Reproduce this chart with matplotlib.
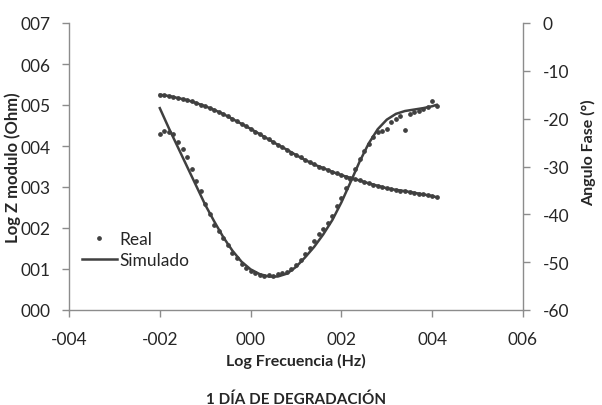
import matplotlib
matplotlib.use("Agg")
import matplotlib.pyplot as plt
from matplotlib.ticker import FuncFormatter, MultipleLocator
from matplotlib.lines import Line2D

plt.rcParams['font.family'] = ['Lato', 'DejaVu Sans']

# Real (measured) data
log_freq_real = [-2.0, -1.9, -1.8, -1.7, -1.6, -1.5, -1.4, -1.3, -1.2, -1.1,
                 -1.0, -0.9, -0.8, -0.7, -0.6, -0.5, -0.4, -0.3, -0.2, -0.1,
                 0.0, 0.1, 0.2, 0.3, 0.4, 0.5, 0.6, 0.7, 0.8, 0.9,
                 1.0, 1.1, 1.2, 1.3, 1.4, 1.5, 1.6, 1.7, 1.8, 1.9,
                 2.0, 2.1, 2.2, 2.3, 2.4, 2.5, 2.6, 2.7, 2.8, 2.9,
                 3.0, 3.1, 3.2, 3.3, 3.4, 3.5, 3.6, 3.7, 3.8, 3.9,
                 4.0, 4.1]
log_z_real = [5.25, 5.24, 5.22, 5.20, 5.17, 5.15, 5.12, 5.09, 5.05, 5.01,
              4.97, 4.93, 4.88, 4.83, 4.78, 4.72, 4.66, 4.60, 4.54, 4.48,
              4.42, 4.35, 4.29, 4.22, 4.16, 4.10, 4.03, 3.97, 3.91, 3.84,
              3.78, 3.72, 3.66, 3.61, 3.55, 3.50, 3.46, 3.41, 3.37, 3.33,
              3.29, 3.25, 3.22, 3.19, 3.16, 3.12, 3.09, 3.06, 3.03, 3.00,
              2.97, 2.95, 2.93, 2.91, 2.90, 2.88, 2.86, 2.84, 2.82, 2.80,
              2.78, 2.75]
phase_real = [-23.2, -22.6, -22.8, -23.2, -24.9, -26.3, -28.0, -30.5, -33.0, -35.1,
              -37.8, -40.0, -42.2, -43.5, -45.0, -46.5, -48.0, -49.2, -50.3, -51.2,
              -51.8, -52.3, -52.6, -52.8, -52.6, -52.8, -52.5, -52.3, -52.0, -51.5,
              -50.5, -49.5, -48.3, -47.0, -45.6, -44.2, -43.0, -41.8, -40.3, -38.3,
              -36.5, -34.5, -32.6, -30.5, -28.5, -26.8, -25.3, -23.8, -22.8, -22.6,
              -22.2, -20.7, -20.1, -19.4, -22.4, -19.0, -18.6, -18.4, -18.0, -17.6,
              -16.3, -17.4]

# Simulated data
log_freq_sim = [-2.0, -1.8, -1.6, -1.4, -1.2, -1.0, -0.8, -0.6, -0.4, -0.2,
                0.0, 0.2, 0.4, 0.6, 0.8, 1.0, 1.2, 1.4, 1.6, 1.8,
                2.0, 2.2, 2.4, 2.6, 2.8, 3.0, 3.2, 3.4, 3.6, 3.8,
                4.0, 4.1]
log_z_sim = [5.25, 5.22, 5.17, 5.12, 5.05, 4.97, 4.88, 4.78, 4.66, 4.54,
             4.42, 4.29, 4.16, 4.03, 3.91, 3.78, 3.66, 3.55, 3.46, 3.37,
             3.29, 3.22, 3.16, 3.09, 3.03, 2.97, 2.93, 2.90, 2.86, 2.82,
             2.78, 2.75]
phase_sim = [-17.8, -22.0, -26.0, -30.0, -34.0, -38.0, -41.5, -44.8, -47.6, -49.9,
             -51.5, -52.5, -53.0, -53.0, -52.4, -51.0, -49.0, -46.8, -44.2, -41.2,
             -37.5, -33.3, -29.0, -25.2, -22.2, -20.2, -19.0, -18.4, -18.1, -17.8,
             -17.4, -17.1]

legend_labels = ["Real", "Simulado"]
title_text = "1 DÍA DE DEGRADACIÓN"

dark = "#404040"
spine_col = "#8c8c8c"
text_col = "#262626"

fig = plt.figure(figsize=(6.02, 4.06), dpi=100)
ax = fig.add_axes([69/602, 1-311/406, (523-69)/602, (311-24)/406])
ax2 = ax.twinx()

ax.plot(log_freq_sim, log_z_sim, color=dark, lw=1.8, zorder=2)
ax.plot(log_freq_real, log_z_real, ls='none', marker='o', ms=2.4, color=dark, zorder=3)
ax2.plot(log_freq_sim, phase_sim, color=dark, lw=1.8, zorder=2)
ax2.plot(log_freq_real, phase_real, ls='none', marker='o', ms=2.4, color=dark, zorder=3)

ax.set_xlim(-4, 6)
ax.set_ylim(0, 7)
ax2.set_ylim(-60, 0)
ax.xaxis.set_major_locator(MultipleLocator(2))
ax.yaxis.set_major_locator(MultipleLocator(1))
ax2.yaxis.set_major_locator(MultipleLocator(10))

def fmt3(v, pos):
    iv = int(round(v))
    return f"{iv:04d}" if iv < 0 else f"{iv:03d}"

ax.xaxis.set_major_formatter(FuncFormatter(fmt3))
ax.yaxis.set_major_formatter(FuncFormatter(fmt3))
ax2.yaxis.set_major_formatter(FuncFormatter(lambda v, p: f"{int(round(v))}"))

for a in (ax, ax2):
    for s in a.spines.values():
        s.set_color(spine_col)
        s.set_linewidth(1.0)
    a.spines['top'].set_visible(False)
    a.tick_params(colors=spine_col, labelcolor=text_col, labelsize=12.5,
                  length=5, width=1.0, direction='out')
ax.spines['right'].set_visible(False)
ax2.spines['left'].set_visible(False)
ax2.spines['bottom'].set_visible(False)
ax.tick_params(axis='x', pad=10)
ax.tick_params(axis='y', pad=8)
ax2.tick_params(axis='y', pad=9)

ax.set_xlabel("Log Frecuencia (Hz)", fontsize=11.5, fontweight='bold', color=text_col)
ax.xaxis.set_label_coords(0.5, -0.148)
ax.set_ylabel("Log Z modulo (Ohm)", fontsize=12, fontweight='bold', color=text_col)
ax.yaxis.set_label_coords(-0.106, 0.5)
ax2.set_ylabel("Angulo Fase (°)", fontsize=11.5, fontweight='bold', color=text_col)
ax2.yaxis.set_label_coords(1.128, 0.55)

handles = [Line2D([], [], ls='none', marker='o', ms=2.4, color=dark),
           Line2D([], [], color=dark, lw=1.8)]
leg = ax.legend(handles, legend_labels, loc='upper left', bbox_to_anchor=(0.013, 0.30),
                frameon=False, fontsize=12.5, handlelength=2.0, handletextpad=0.15,
                labelspacing=0.3, borderaxespad=0)
for t in leg.get_texts():
    t.set_color(text_col)

fig.text(296/602, 1-404/406, title_text, ha='center', va='baseline',
         fontsize=11, fontweight='bold', color=text_col)

fig.savefig("out.png", dpi=100)
